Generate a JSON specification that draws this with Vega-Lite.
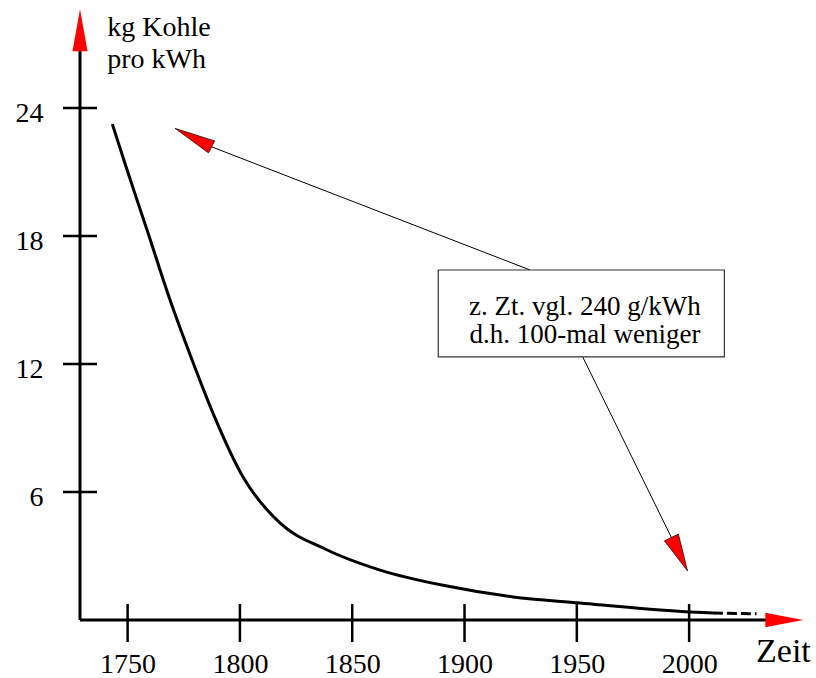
{
  "$schema": "https://vega.github.io/schema/vega-lite/v6.json",
  "width": 723,
  "height": 610,
  "autosize": {"type": "none"},
  "padding": {"left": 80, "top": 10, "right": 13, "bottom": 58},
  "background": "white",
  "config": {"view": {"stroke": null}, "font": "Liberation Serif, 'Times New Roman', 'DejaVu Serif', serif"},
  "datasets": {
    "curve": [
      {"x": 1743.2, "y": 23.25}, {"x": 1749.3, "y": 21.25}, {"x": 1759.1, "y": 18.14},
      {"x": 1768.9, "y": 15.0}, {"x": 1778.7, "y": 12.19}, {"x": 1788.0, "y": 9.7},
      {"x": 1801.4, "y": 6.7}, {"x": 1817.8, "y": 4.55}, {"x": 1837.9, "y": 3.33},
      {"x": 1862.4, "y": 2.34}, {"x": 1892.2, "y": 1.59}, {"x": 1921.6, "y": 1.08},
      {"x": 1951.4, "y": 0.8}, {"x": 1981.2, "y": 0.52}, {"x": 2000.4, "y": 0.38},
      {"x": 2010.6, "y": 0.33}
    ],
    "dashed": [{"x": 2010.6, "y": 0.33}, {"x": 2030, "y": 0.29}],
    "axislines": [
      {"x": 1728.8, "y": 0, "x2": 2036, "y2": 0},
      {"x": 1728.8, "y": 0, "x2": 1728.8, "y2": 27.0}
    ],
    "yticks": [{"x": 1728.8, "y": 6}, {"x": 1728.8, "y": 12}, {"x": 1728.8, "y": 18}, {"x": 1728.8, "y": 24}],
    "xticks": [
      {"x": 1750, "y": -0.14}, {"x": 1800, "y": -0.14}, {"x": 1850, "y": -0.14},
      {"x": 1900, "y": -0.14}, {"x": 1950, "y": -0.14}, {"x": 2000, "y": -0.14}
    ],
    "xarrow": [{"x": 2050.84, "y": 0}],
    "yarrow": [{"x": 1728.8, "y": 28.63}],
    "arrow1": [{"x": 1771.1, "y": 23.05}],
    "arrow2": [{"x": 1999.3, "y": 2.3}],
    "pointers": [
      {"x": 1929.2, "y": 16.41, "x2": 1787.5, "y2": 22.18},
      {"x": 1952.6, "y": 12.34, "x2": 1992.1, "y2": 3.87}
    ],
    "box": [{"x": 1888.3, "x2": 2015.7, "y": 16.41, "y2": 12.34}],
    "boxtext": [
      {"label": "z. Zt. vgl. 240 g/kWh", "x": 1953.6, "y": 14.3},
      {"label": "d.h. 100-mal weniger", "x": 1953.6, "y": 12.97}
    ],
    "ytitle": [
      {"label": "kg Kohle", "x": 1740.95, "y": 27.38},
      {"label": "pro kWh", "x": 1740.95, "y": 25.87}
    ],
    "xtitle": [{"label": "Zeit", "x": 2029.8, "y": -1.955}]
  },
  "encoding": {
    "x": {
      "field": "x", "type": "quantitative",
      "scale": {"domain": [1728.8, 2050.7], "nice": false, "zero": false},
      "axis": {
        "title": null, "domain": false, "ticks": false, "grid": false,
        "values": [1750, 1800, 1850, 1900, 1950, 2000],
        "format": "d",
        "labelFont": "Liberation Serif, 'Times New Roman', 'DejaVu Serif', serif", "labelFontSize": 28, "labelColor": "black",
        "labelBaseline": "alphabetic", "labelPadding": 52, "labelFlush": false, "labelOverlap": false
      }
    },
    "y": {
      "field": "y", "type": "quantitative",
      "scale": {"domain": [0, 28.6], "nice": false, "zero": false},
      "axis": {
        "title": null, "domain": false, "ticks": false, "grid": false,
        "values": [6, 12, 18, 24],
        "labelFont": "Liberation Serif, 'Times New Roman', 'DejaVu Serif', serif", "labelFontSize": 28, "labelColor": "black",
        "labelAlign": "right", "labelBaseline": "alphabetic", "labelOffset": 13,
        "labelPadding": 37, "labelFlush": false, "labelOverlap": false
      }
    }
  },
  "layer": [
    {
      "data": {"name": "axislines"},
      "mark": {"type": "rule", "color": "black", "strokeWidth": 3},
      "encoding": {"x2": {"field": "x2"}, "y2": {"field": "y2"}}
    },
    {
      "data": {"name": "yticks"},
      "mark": {"type": "tick", "orient": "horizontal", "size": 34, "thickness": 2.5, "color": "black", "opacity": 1}
    },
    {
      "data": {"name": "xticks"},
      "mark": {"type": "tick", "orient": "vertical", "size": 38, "thickness": 2.5, "color": "black", "opacity": 1}
    },
    {
      "data": {"name": "curve"},
      "mark": {"type": "line", "interpolate": "monotone", "color": "black", "strokeWidth": 3}
    },
    {
      "data": {"name": "dashed"},
      "mark": {"type": "line", "color": "black", "strokeWidth": 3, "strokeDash": [10, 4]}
    },
    {
      "data": {"name": "pointers"},
      "mark": {"type": "rule", "color": "black", "strokeWidth": 1},
      "encoding": {"x2": {"field": "x2"}, "y2": {"field": "y2"}}
    },
    {
      "data": {"name": "box"},
      "mark": {"type": "rect", "fill": "white", "stroke": "#333333", "strokeWidth": 1.2},
      "encoding": {"x2": {"field": "x2"}, "y2": {"field": "y2"}}
    },
    {
      "data": {"name": "boxtext"},
      "mark": {"type": "text", "font": "Liberation Serif, 'Times New Roman', 'DejaVu Serif', serif", "fontSize": 27, "align": "center", "baseline": "alphabetic", "color": "black"},
      "encoding": {"text": {"field": "label"}}
    },
    {
      "data": {"name": "ytitle"},
      "mark": {"type": "text", "font": "Liberation Serif, 'Times New Roman', 'DejaVu Serif', serif", "fontSize": 28, "align": "left", "baseline": "alphabetic", "color": "black"},
      "encoding": {"text": {"field": "label"}}
    },
    {
      "data": {"name": "xtitle"},
      "mark": {"type": "text", "font": "Liberation Serif, 'Times New Roman', 'DejaVu Serif', serif", "fontSize": 34, "align": "left", "baseline": "alphabetic", "color": "black"},
      "encoding": {"text": {"field": "label"}}
    },
    {
      "data": {"name": "xarrow"},
      "mark": {"type": "point", "shape": "M0,0 L-2,-0.38 L-2,0.38 Z", "size": 1444, "angle": 0, "filled": true, "fill": "#ff0000", "stroke": null, "opacity": 1}
    },
    {
      "data": {"name": "yarrow"},
      "mark": {"type": "point", "shape": "M0,0 L-2,-0.36 L-2,0.36 Z", "size": 1764, "angle": 270, "filled": true, "fill": "#ff0000", "stroke": null, "opacity": 1}
    },
    {
      "data": {"name": "arrow1"},
      "mark": {"type": "point", "shape": "M0,0 L-2,-0.33 L-2,0.33 Z", "size": 1681, "angle": 206.9, "filled": true, "fill": "#ff0000", "stroke": "black", "strokeWidth": 0.6, "opacity": 1}
    },
    {
      "data": {"name": "arrow2"},
      "mark": {"type": "point", "shape": "M0,0 L-2,-0.42 L-2,0.42 Z", "size": 1384, "angle": 64.2, "filled": true, "fill": "#ff0000", "stroke": "black", "strokeWidth": 0.6, "opacity": 1}
    }
  ]
}
